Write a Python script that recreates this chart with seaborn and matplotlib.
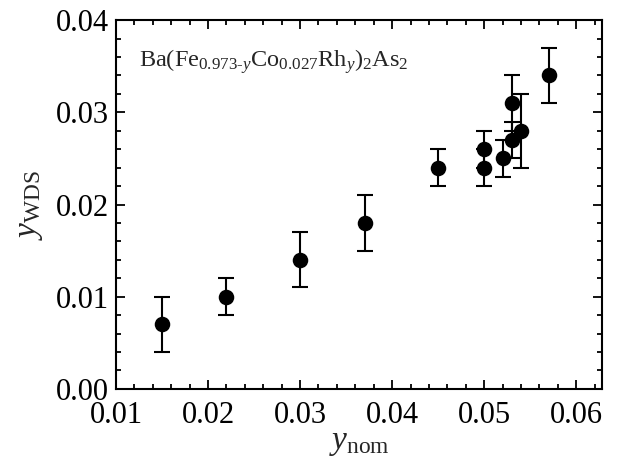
import numpy as np
import pandas as pd
import matplotlib
matplotlib.use("Agg")
import matplotlib.pyplot as plt
import seaborn as sns
from matplotlib.ticker import MultipleLocator, FormatStrFormatter

# ============================================================
# DATA
# ============================================================
y_nom = [0.015, 0.022, 0.030, 0.037, 0.045, 0.050, 0.050, 0.052, 0.053, 0.053, 0.054, 0.057]
y_wds = [0.007, 0.010, 0.014, 0.018, 0.024, 0.024, 0.026, 0.025, 0.027, 0.031, 0.028, 0.034]
y_err = [0.003, 0.002, 0.003, 0.003, 0.002, 0.002, 0.002, 0.002, 0.002, 0.003, 0.004, 0.003]

df = pd.DataFrame({"y_nom": y_nom, "y_wds": y_wds, "err": y_err})

# ============================================================
# STYLE
# ============================================================
sns.set_theme(style="ticks")
plt.rcParams["font.family"] = ["Liberation Serif", "DejaVu Serif"]
plt.rcParams["mathtext.fontset"] = "custom"
plt.rcParams["mathtext.rm"] = "Liberation Serif"
plt.rcParams["mathtext.it"] = "Liberation Serif:italic"
plt.rcParams["mathtext.bf"] = "Liberation Serif:bold"

fig = plt.figure(figsize=(6.2, 4.68), dpi=100)
ax = fig.add_axes([0.187, 0.169, 0.784, 0.788])

ax.errorbar(df["y_nom"], df["y_wds"], yerr=df["err"], fmt="none",
            ecolor="black", elinewidth=1.5, capsize=6, capthick=1.5, zorder=2)
sns.scatterplot(data=df, x="y_nom", y="y_wds", ax=ax, color="black",
                s=125, edgecolor="black", linewidth=0, zorder=3, legend=False)

ax.set_xlim(0.01, 0.0628)
ax.set_ylim(0.0, 0.04)
ax.xaxis.set_major_locator(MultipleLocator(0.01))
ax.xaxis.set_minor_locator(MultipleLocator(0.002))
ax.yaxis.set_major_locator(MultipleLocator(0.01))
ax.yaxis.set_minor_locator(MultipleLocator(0.002))
ax.xaxis.set_major_formatter(FormatStrFormatter("%.2f"))
ax.yaxis.set_major_formatter(FormatStrFormatter("%.2f"))

ax.tick_params(which="both", direction="in", top=True, right=True,
               labelsize=22, width=1.3, color="black", labelcolor="black")
ax.tick_params(which="major", length=6.5)
ax.tick_params(which="minor", length=3.5)
ax.tick_params(axis="x", which="major", pad=9)
ax.tick_params(axis="y", which="major", pad=5)
for sp in ax.spines.values():
    sp.set_linewidth(1.5)
    sp.set_color("black")

ax.set_xlabel(r"$\mathit{y}_{\mathrm{nom}}$", fontsize=24, labelpad=-2)
ax.set_ylabel(r"$\mathit{y}_{\mathrm{WDS}}$", fontsize=24, labelpad=8)

ax.text(0.047, 0.875,
        r"Ba(Fe$_{0.973\text{-}\mathit{y}}$Co$_{0.027}$Rh$_{\mathit{y}}$)$_2$As$_2$",
        transform=ax.transAxes, fontsize=17.5, ha="left", va="baseline")

fig.savefig("out.png", dpi=100)
